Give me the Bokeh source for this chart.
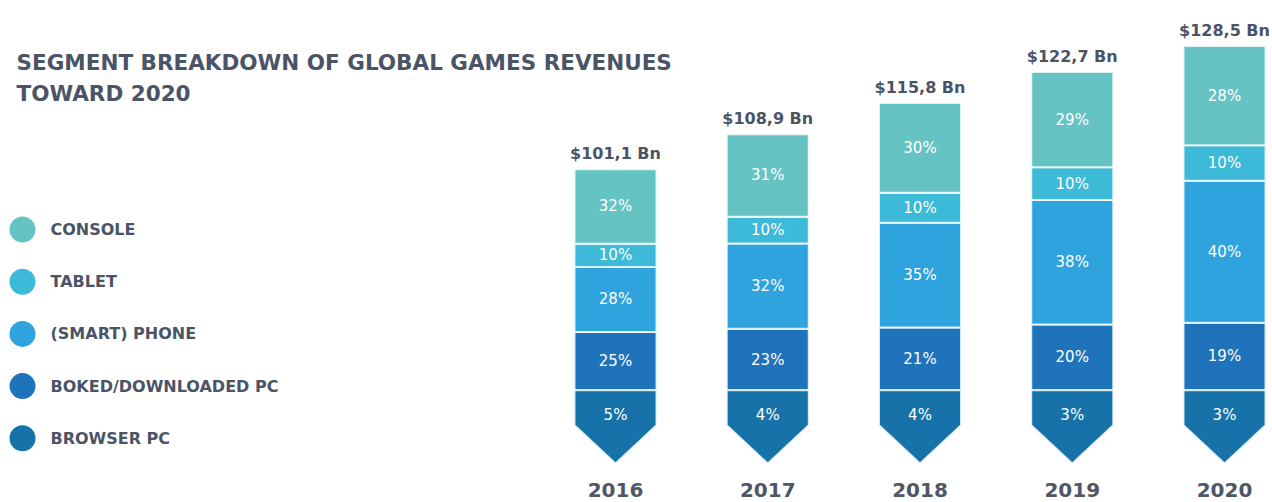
from bokeh.plotting import figure
from bokeh.models import ColumnDataSource, Label, Range1d
from bokeh.core.properties import value
from bokeh.embed import file_html
from bokeh.resources import INLINE

# ---------------- data ----------------
years = ["2016", "2017", "2018", "2019", "2020"]
revenue = [101.1, 108.9, 115.8, 122.7, 128.5]          # $ Bn
console = [32, 31, 30, 29, 28]                          # %
tablet = [10, 10, 10, 10, 10]
phone = [28, 32, 35, 38, 40]
boxed = [25, 23, 21, 20, 19]
browser = [5, 4, 4, 3, 3]
segment_names = ["CONSOLE", "TABLET", "(SMART) PHONE", "BOKED/DOWNLOADED PC", "BROWSER PC"]

# ---------------- style / layout ----------------
colors = ["#66c3c3", "#3dbad7", "#2ea3de", "#1f73ba", "#1772aa"]
TEXT_COLOR = "#4b5466"
W, H = 1272, 502
X0_PX, X_STEP = 615.0, 152.25        # image px of first bar centre, spacing
Y_REF_PX, Y_REF, PX_PER_UNIT = 104.4, 115.4, 4.5
BASE = 52.0                          # truncated-axis base (Bn)
BROWSER_DEPTH = 7.8                  # rectangular part of the arrow foot
TIP_DEPTH = 8.5                      # point of the arrow
BAR_W = 82 / X_STEP


def px_x(px):
    return (px - X0_PX) / X_STEP


def px_y(py):
    return Y_REF - (py - Y_REF_PX) / PX_PER_UNIT


p = figure(width=W, height=H, output_backend="svg", toolbar_location=None,
           x_range=Range1d(px_x(0), px_x(W)), y_range=Range1d(px_y(H), px_y(0)),
           x_axis_location=None, y_axis_location=None, min_border=0,
           background_fill_color="white", border_fill_color="white")
p.outline_line_color = None
p.grid.visible = False

# ---------------- stacked bars ----------------
stack_series = [boxed, phone, tablet, console]     # bottom to top
stack_colors = [colors[3], colors[2], colors[1], colors[0]]
q = dict(left=[], right=[], bottom=[], top=[], color=[])
lab = dict(x=[], y=[], text=[])
for i in range(len(years)):
    scale = (revenue[i] - BASE) / (100 - browser[i])
    y = BASE
    for ser, col in zip(stack_series, stack_colors):
        h = ser[i] * scale
        q["left"].append(i - BAR_W / 2)
        q["right"].append(i + BAR_W / 2)
        q["bottom"].append(y)
        q["top"].append(y + h)
        q["color"].append(col)
        lab["x"].append(i)
        lab["y"].append(y + h / 2)
        lab["text"].append(f"{ser[i]}%")
        y += h

p.quad(left="left", right="right", bottom="bottom", top="top", fill_color="color",
       line_color="white", line_width=2, line_alpha=0.8, source=ColumnDataSource(q))

# arrow-shaped browser PC foot
xs, ys = [], []
for i in range(len(years)):
    l, r = i - BAR_W / 2, i + BAR_W / 2
    xs.append([l, r, r, i, l])
    ys.append([BASE, BASE, BASE - BROWSER_DEPTH, BASE - BROWSER_DEPTH - TIP_DEPTH, BASE - BROWSER_DEPTH])
    lab["x"].append(i)
    lab["y"].append(BASE - BROWSER_DEPTH * 0.7)
    lab["text"].append(f"{browser[i]}%")
p.patches(xs=xs, ys=ys, fill_color=colors[4], line_color="white", line_width=2, line_alpha=0.8)

p.text(x="x", y="y", text="text", source=ColumnDataSource(lab), text_color="white",
       text_font=value("DejaVu Sans"), text_font_size="15px",
       text_align="center", text_baseline="middle")

# totals above bars
tot = ColumnDataSource(dict(x=list(range(len(years))), y=revenue,
                            text=["$" + f"{r:.1f}".replace(".", ",") + " Bn" for r in revenue]))
p.text(x="x", y="y", text="text", source=tot, text_color=TEXT_COLOR,
       text_font=value("DejaVu Sans"), text_font_style="bold", text_font_size="16px",
       text_align="center", text_baseline="bottom", y_offset=-6)

# year labels
yr = ColumnDataSource(dict(x=list(range(len(years))), y=[px_y(496)] * len(years), text=years))
p.text(x="x", y="y", text="text", source=yr, text_color="#4f5665",
       text_font=value("DejaVu Sans"), text_font_style="bold", text_font_size="20px",
       text_align="center", text_baseline="bottom")

# ---------------- legend (drawn manually) ----------------
LEG_X, LEG_TOP, LEG_STEP, LEG_TEXT_X = 22, 229, 52.2, 50
leg_y = [px_y(LEG_TOP + k * LEG_STEP) for k in range(len(segment_names))]
p.scatter(x=[px_x(LEG_X)] * len(segment_names), y=leg_y, size=26, color=colors, line_color=None)
p.text(x=[px_x(LEG_TEXT_X)] * len(segment_names), y=leg_y, text=segment_names,
       text_color=TEXT_COLOR, text_font=value("DejaVu Sans"), text_font_style="bold",
       text_font_size="16px", text_align="left", text_baseline="middle")

# ---------------- title ----------------
for txt, yy in [("SEGMENT BREAKDOWN OF GLOBAL GAMES REVENUES", 62),
                ("TOWARD 2020", 93)]:
    p.add_layout(Label(x=16, y=H - yy, x_units="screen", y_units="screen", text=txt,
                       text_font="DejaVu Sans", text_font_style="bold", text_font_size="21.5px",
                       text_color=TEXT_COLOR, text_baseline="alphabetic"))

open("out.html", "w").write(file_html(p, INLINE))
